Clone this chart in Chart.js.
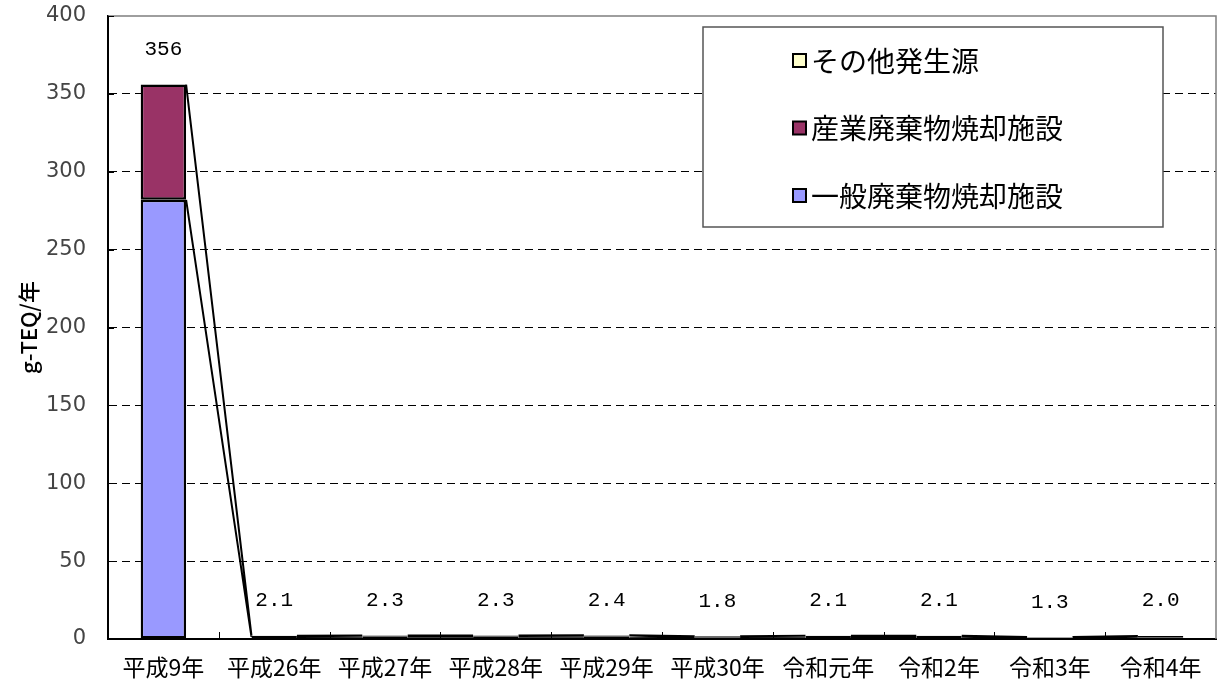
<!DOCTYPE html>
<html lang="ja">
<head>
<meta charset="utf-8">
<script src="https://cdn.jsdelivr.net/npm/chart.js@4.4.0/dist/chart.umd.min.js"></script>
<style>
	html, body { margin: 0; padding: 0; background: #fff; }
	#wrap { position: relative; width: 1219px; height: 684px; }
</style>
</head>
<body>
<div id="wrap"><canvas id="dioxin_report"></canvas></div>
<script>
var categoryList = ['平成9年', '平成26年', '平成27年', '平成28年', '平成29年', '平成30年', '令和元年', '令和2年', '令和3年', '令和4年'];

/* g-TEQ/年 by source */
var generalWasteData    = [282, 1.3, 1.4, 1.4, 1.5, 1.1, 1.3, 1.3, 0.8, 1.2];
var industrialWasteData = [74,  0.7, 0.8, 0.8, 0.8, 0.6, 0.7, 0.7, 0.4, 0.7];
var otherSourceData     = [0,   0.1, 0.1, 0.1, 0.1, 0.1, 0.1, 0.1, 0.1, 0.1];

var seriesLabels = ['一般廃棄物焼却施設', '産業廃棄物焼却施設', 'その他発生源'];
var seriesColors = ['#9999ff', '#993366', '#ffffcc'];
var yTickList = [0, 50, 100, 150, 200, 250, 300, 350, 400];

var cjkFont = '"Noto Sans CJK JP", "Noto Sans", sans-serif';

function stackTotal(i) {
	return generalWasteData[i] + industrialWasteData[i] + otherSourceData[i];
}

function totalLabel(i) {
	var t = stackTotal(i);
	return t >= 10 ? t.toFixed(0) : t.toFixed(1);
}

/* frame, inner ticks, series lines, totals and legend box */
var excelLook = {
	id: 'excelLook',
	afterDatasetsDraw: function (chart) {
		var ctx = chart.ctx;
		var area = chart.chartArea;
		var xs = chart.scales.x;
		var ys = chart.scales.y;
		ctx.save();

		// top and right frame
		ctx.strokeStyle = '#7f7f7f';
		ctx.lineWidth = 1.5;
		ctx.beginPath();
		ctx.moveTo(area.left, area.top);
		ctx.lineTo(area.right, area.top);
		ctx.lineTo(area.right, area.bottom);
		ctx.stroke();

		// tick marks pointing inward
		ctx.strokeStyle = '#000';
		ctx.lineWidth = 1;
		ctx.beginPath();
		yTickList.forEach(function (v) {
			var y = Math.round(ys.getPixelForValue(v)) + 0.5;
			ctx.moveTo(area.left, y);
			ctx.lineTo(area.left + 6, y);
		});
		for (var k = 1; k < categoryList.length; k++) {
			var bx = Math.round((xs.getPixelForTick(k - 1) + xs.getPixelForTick(k)) / 2) + 0.5;
			ctx.moveTo(bx, area.bottom);
			ctx.lineTo(bx, area.bottom - 7);
		}
		ctx.stroke();

		// series lines between neighbouring stacks
		ctx.strokeStyle = '#000';
		ctx.lineWidth = 2;
		ctx.beginPath();
		chart.data.datasets.forEach(function (ds, d) {
			var bars = chart.getDatasetMeta(d).data;
			for (var i = 0; i < bars.length - 1; i++) {
				var a = bars[i], b = bars[i + 1];
				ctx.moveTo(a.x + a.width / 2, a.y);
				ctx.lineTo(b.x - b.width / 2, b.y);
			}
		});
		ctx.stroke();

		// stack totals
		ctx.fillStyle = '#000';
		ctx.font = '21px "Liberation Mono", monospace';
		ctx.textAlign = 'center';
		ctx.textBaseline = 'middle';
		var topBars = chart.getDatasetMeta(chart.data.datasets.length - 1).data;
		for (var j = 0; j < categoryList.length; j++) {
			var yTop = ys.getPixelForValue(stackTotal(j));
			ctx.fillText(totalLabel(j), topBars[j].x, yTop - 35);
		}

		// legend box
		var lx = area.left + 595, ly = area.top + 11, lw = 460, lh = 200;
		ctx.fillStyle = '#fff';
		ctx.fillRect(lx, ly, lw, lh);
		ctx.strokeStyle = '#555';
		ctx.lineWidth = 1.5;
		ctx.strokeRect(lx, ly, lw, lh);
		ctx.font = '28px ' + cjkFont;
		ctx.textAlign = 'left';
		var order = [2, 1, 0];
		order.forEach(function (d, n) {
			var cy = ly + 34 + n * 67.5;
			ctx.fillStyle = seriesColors[d];
			ctx.fillRect(lx + 90, cy - 7, 13, 13);
			ctx.strokeStyle = '#000';
			ctx.lineWidth = 2;
			ctx.strokeRect(lx + 90, cy - 7, 13, 13);
			ctx.fillStyle = '#000';
			ctx.fillText(chart.data.datasets[d].label, lx + 108, cy);
		});

		ctx.restore();
	}
};

var datasetValues = [generalWasteData, industrialWasteData, otherSourceData];

var dioxinChart = new Chart(document.getElementById('dioxin_report'), {
	type: 'bar',
	data: {
		labels: categoryList,
		datasets: datasetValues.map(function (vals, d) {
			return {
				label: seriesLabels[d],
				data: vals,
				backgroundColor: seriesColors[d],
				borderColor: '#000',
				borderWidth: 2.5,
				borderSkipped: false,
				categoryPercentage: 1,
				barPercentage: 0.41
			};
		})
	},
	options: {
		responsive: true,
		maintainAspectRatio: false,
		animation: false,
		layout: {
			padding: { top: 16, right: 3, left: 0, bottom: 0 }
		},
		scales: {
			x: {
				stacked: true,
				offset: true,
				grid: { display: false },
				border: { color: '#000', width: 2 },
				ticks: {
					color: '#000',
					font: { family: cjkFont, size: 23 },
					padding: 6,
					maxRotation: 0,
					autoSkip: false
				},
				afterFit: function (scale) {
					scale.height = 45;
					scale.paddingLeft = 0;
					scale.paddingRight = 0;
				}
			},
			y: {
				stacked: true,
				min: 0,
				max: 400,
				afterBuildTicks: function (scale) {
					scale.ticks = yTickList.map(function (v) { return { value: v }; });
				},
				grid: {
					drawTicks: false,
					lineWidth: 1,
					color: function (context) {
						var v = context.tick && context.tick.value;
						return (v === 0 || v === 400) ? 'rgba(0,0,0,0)' : '#000';
					}
				},
				border: { color: '#000', width: 2, dash: [8, 5] },
				ticks: {
					color: '#444',
					font: { family: '"DejaVu Sans", sans-serif', size: 21 },
					padding: 22
				},
				title: {
					display: true,
					text: 'g-TEQ/年',
					color: '#000',
					font: { family: cjkFont, size: 22, weight: '500' },
					padding: { top: 15, bottom: 0 }
				},
				afterFit: function (scale) {
					scale.width = 108;
					scale.paddingTop = 0;
					scale.paddingBottom = 0;
				}
			}
		},
		plugins: {
			legend: { display: false },
			tooltip: { enabled: false }
		}
	},
	plugins: [excelLook]
});
</script>
</body>
</html>
